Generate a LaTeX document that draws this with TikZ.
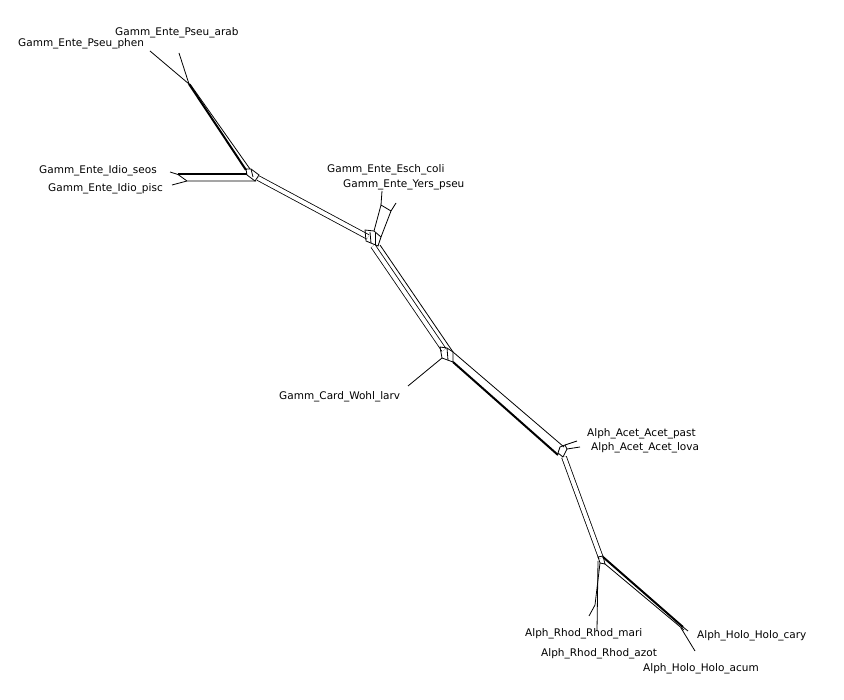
\documentclass[tikz,border=0pt]{standalone}
\usepackage{fontspec}
\setmainfont{DejaVu Sans}
\begin{document}
\begin{tikzpicture}[x=1pt,y=-1pt,
    taxon/.style={font=\fontsize{10.5}{12}\selectfont, inner sep=0pt, anchor=west},
    edge/.style={line width=0.8pt},
    pair/.style={double, double distance=4pt, line width=0.8pt},
    bundle/.style={line width=2pt}]
    \useasboundingbox (0,0) rectangle (844,700);

    % Taxon labels
    \node[taxon] (phen) at (18,44) {Gamm\_Ente\_Pseu\_phen};
    \node[taxon] (arab) at (115,33) {Gamm\_Ente\_Pseu\_arab};
    \node[taxon] (seos) at (39,171) {Gamm\_Ente\_Idio\_seos};
    \node[taxon] (pisc) at (48,189) {Gamm\_Ente\_Idio\_pisc};
    \node[taxon] (coli) at (327,170) {Gamm\_Ente\_Esch\_coli};
    \node[taxon] (yers) at (343,185) {Gamm\_Ente\_Yers\_pseu};
    \node[taxon] (wohl) at (279,397) {Gamm\_Card\_Wohl\_larv};
    \node[taxon] (past) at (587,434) {Alph\_Acet\_Acet\_past};
    \node[taxon] (lova) at (591,448) {Alph\_Acet\_Acet\_lova};
    \node[taxon] (mari) at (525,634) {Alph\_Rhod\_Rhod\_mari};
    \node[taxon] (azot) at (541,654) {Alph\_Rhod\_Rhod\_azot};
    \node[taxon] (cary) at (697,636) {Alph\_Holo\_Holo\_cary};
    \node[taxon] (acum) at (643,669) {Alph\_Holo\_Holo\_acum};

    % Leaf tips
    \coordinate (phen tip) at (150,51);
    \coordinate (arab tip) at (179,53);
    \coordinate (seos tip) at (170,172);
    \coordinate (pisc tip) at (172,185);
    \coordinate (coli tip) at (382,191);
    \coordinate (yers tip) at (396,203);
    \coordinate (wohl tip) at (408,386);
    \coordinate (past tip) at (577,441);
    \coordinate (lova tip) at (580,447);
    \coordinate (mari tip) at (597,631);
    \coordinate (azot tip) at (589,616);
    \coordinate (cary tip) at (688,631);
    \coordinate (acum tip) at (695,651);

    % Pseudomonas split
    \coordinate (pseu) at (189,84);
    \draw[edge] (phen tip) -- (pseu);
    \draw[edge] (arab tip) -- (pseu);
    \draw[bundle] (pseu) -- (246,170);
    \draw[edge] (190,84) -- (250,169);

    % Idiomarina split
    \draw[edge] (seos tip) -- (178,174.5);
    \draw[bundle] (178,174.5) -- (247,174.5);
    \draw[edge] (178,174.5) -- (187,181) -- (256,181);
    \draw[edge] (pisc tip) -- (187,181);
    \draw[edge] (246,169) -- (247,175) -- (255,181) -- (259,175) -- (251,169) -- cycle;
    \draw[edge] (251,169) -- (253,177);

    % Trunk to Escherichia / Yersinia
    \draw[pair] (258,178) -- (368,237);
    \draw[edge] (365,230) -- (366,241) -- (378,246) -- (381,237) -- (374,231) -- cycle;
    \draw[edge] (370,232) -- (371,243);
    \draw[edge] (375,233) -- (375,245);
    \draw[edge] (374,231) -- (381,205) -- (391,211) -- (381,237);
    \draw[edge] (381,205) -- (coli tip);
    \draw[edge] (391,211) -- (yers tip);

    % Trunk to Wohlfahrtiimonas
    \draw[pair] (373,246) -- (444,350);
    \draw[edge] (380,245) -- (453,352);
    \draw[edge] (440,347) -- (442,358) -- (453,362) -- (453,352) -- (447,348) -- cycle;
    \draw[edge] (447,348) -- (448,360);
    \draw[edge] (442,358) -- (wohl tip);

    % Trunk to Acetobacter
    \draw[bundle] (453,362) -- (558,455);
    \draw[edge] (453,352) -- (564,447);
    \draw[edge] (560,447) -- (558,453) -- (563,457) -- (567,449) -- (565,445) -- cycle;
    \draw[edge] (565,445) -- (past tip);
    \draw[edge] (567,449) -- (lova tip);

    % Trunk to Rhodobacter / Holophaga
    \draw[pair] (564,457) -- (601,558);
    \draw[edge] (598,557) -- (600,563) -- (605,564) -- (603,556) -- cycle;
    \draw[bundle] (603,557) -- (683,627);
    \draw[edge] (605,564) -- (684,630);
    \draw[edge] (683,627) -- (cary tip);
    \draw[edge] (681,628) -- (acum tip);
    \draw[edge] (598,561) -- (mari tip);
    \draw[edge] (600,563) -- (595,605) -- (azot tip);
\end{tikzpicture}
\end{document}
